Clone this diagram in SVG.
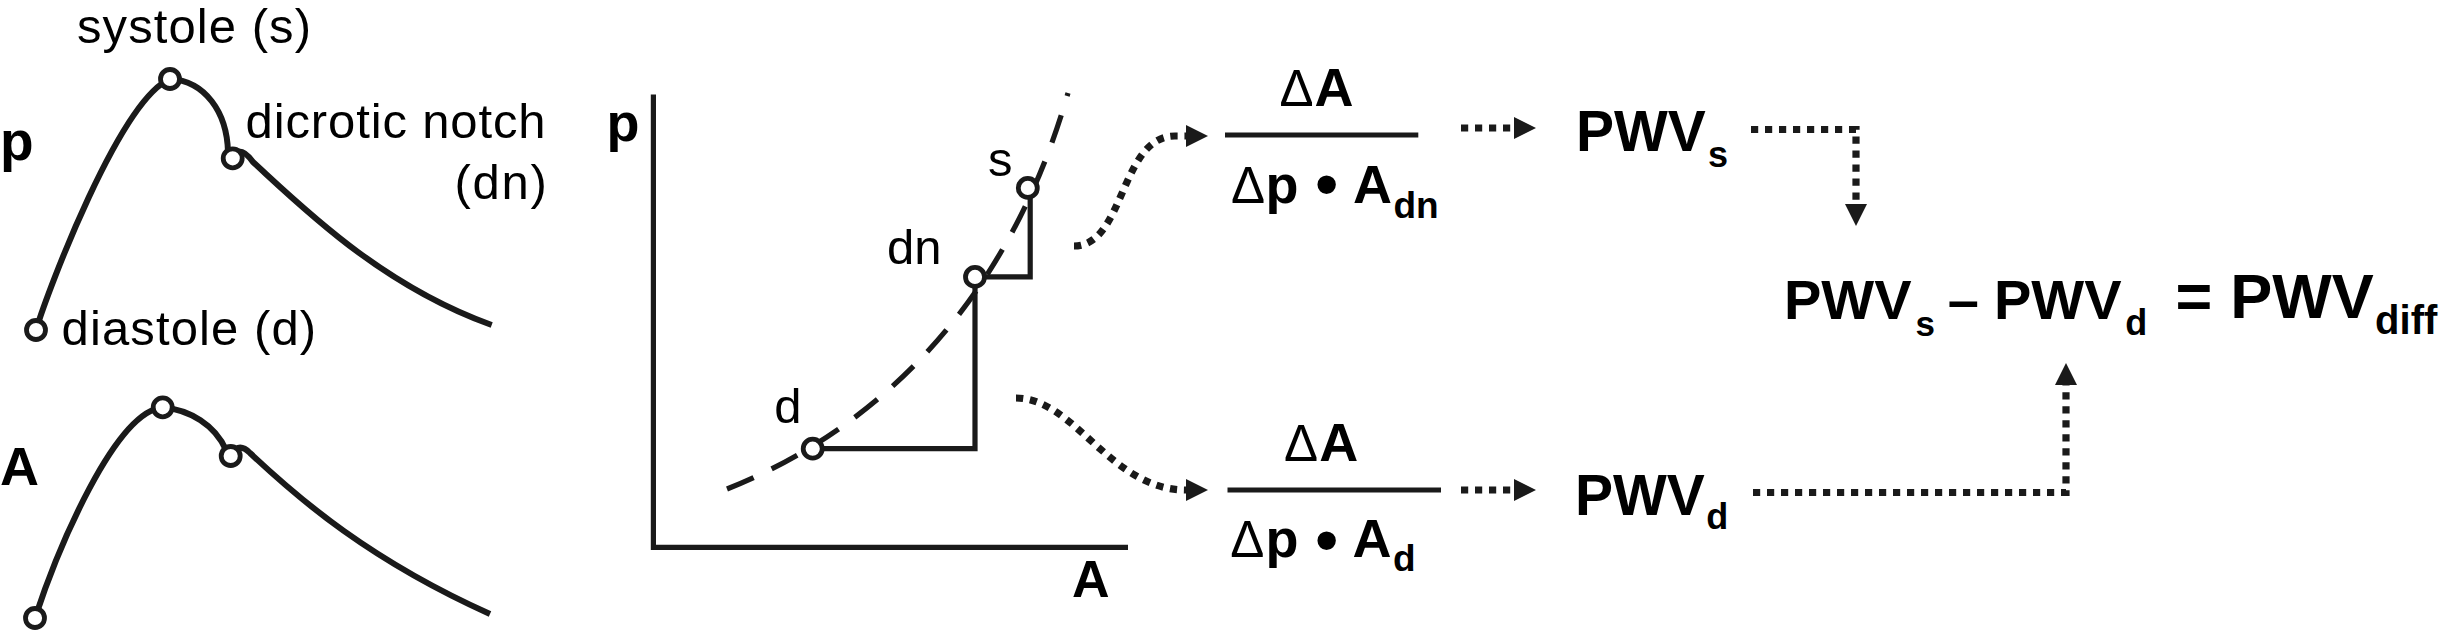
<svg xmlns="http://www.w3.org/2000/svg" width="2441" height="631" viewBox="0 0 2441 631">
<defs>
<style>
.t{font-family:"Liberation Sans",Arial,sans-serif;fill:#000}
.r{font-size:49px}
.b{font-weight:bold}
.curve{fill:none;stroke:#1a1a1a;stroke-width:6;stroke-linejoin:round;stroke-linecap:butt}
.solid{fill:none;stroke:#1a1a1a;stroke-width:5.2}
.dash{fill:none;stroke:#1a1a1a;stroke-width:5.2;stroke-dasharray:29 20}
.dot{fill:none;stroke:#1a1a1a;stroke-width:7.2;stroke-dasharray:7.2 6.8}
.pt{fill:#fff;stroke:#1a1a1a;stroke-width:4.8}
</style>
<marker id="ah" markerUnits="userSpaceOnUse" markerWidth="22" markerHeight="22" refX="0" refY="11" orient="auto"><path d="M0,0L22,11L0,22z" fill="#1a1a1a"/></marker>
</defs>
<rect width="2441" height="631" fill="#fff"/>

<g id="p-waveform">
<text class="t b" x="0" y="160" font-size="55">p</text>
<path class="curve" d="M36,330 C48,290 120,100 170,79 C205,81 227,112 228,152"/>
<path class="curve" d="M236,152 Q244,149 253,162 C300,205 380,285 491.7,325"/>
<circle class="pt" cx="36" cy="330" r="9.5"/>
<circle class="pt" cx="170" cy="79" r="9.5"/>
<circle class="pt" cx="232.7" cy="158.3" r="9.5"/>
<text class="t r" x="77" y="43.3" textLength="234" lengthAdjust="spacing">systole (s)</text>
<text class="t r" x="245.6" y="138.3" textLength="300" lengthAdjust="spacing">dicrotic notch</text>
<text class="t r" x="454.4" y="199.3" textLength="92.5" lengthAdjust="spacing">(dn)</text>
<text class="t r" x="61.6" y="345" textLength="254.6" lengthAdjust="spacing">diastole (d)</text>
</g>

<g id="A-waveform">
<text class="t b" x="0" y="485" font-size="54">A</text>
<path class="curve" d="M35,618 C58,548 115,412 162.7,407.3 C190,410 215,425 226,450"/>
<path class="curve" d="M236,449 Q242,445 250,453 C300,500 370,560 490,614"/>
<circle class="pt" cx="35" cy="618" r="9.5"/>
<circle class="pt" cx="162.7" cy="407.3" r="9.5"/>
<circle class="pt" cx="230.7" cy="456" r="9.5"/>
</g>

<g id="pA-chart">
<text class="t b" x="606.5" y="141" font-size="54">p</text>
<text class="t b" x="1072" y="597" font-size="52">A</text>
<path class="solid" d="M653.4,94.6 V547.3 H1128"/>
<path class="dash" d="M727,489 C850,440 1000,330 1068,93"/>
<path class="solid" d="M812.7,448.7 H975 V276.9 H1030.2 V187.9"/>
<circle class="pt" cx="812.7" cy="448.7" r="9.5"/>
<circle class="pt" cx="975" cy="276.9" r="9.5"/>
<circle class="pt" cx="1027.8" cy="187.9" r="9.5"/>
<text class="t r" x="774.3" y="422.5">d</text>
<text class="t r" x="886.9" y="263.6">dn</text>
<text class="t r" x="988" y="176.3">s</text>
</g>

<g id="fraction-s">
<text class="t" x="1279.5" y="106" font-size="51">Δ</text>
<text class="t b" x="1314.6" y="106" font-size="54">A</text>
<path class="solid" d="M1225,135 H1418.3"/>
<text class="t" x="1231" y="202.7" font-size="51">Δ</text>
<text class="t b" x="1265.5" y="202.7" font-size="54">p</text>
<text class="t" x="1314.8" y="207.1" font-size="68">•</text>
<text class="t b" x="1352.9" y="202.7" font-size="54">A</text>
<text class="t b" x="1393.5" y="218.3" font-size="37">dn</text>
</g>

<g id="fraction-d">
<text class="t" x="1284" y="460.8" font-size="51">Δ</text>
<text class="t b" x="1319.3" y="460.8" font-size="54">A</text>
<path class="solid" d="M1227.5,490 H1441"/>
<text class="t" x="1230.3" y="557.3" font-size="51">Δ</text>
<text class="t b" x="1265.5" y="557.3" font-size="54">p</text>
<text class="t" x="1314.8" y="563" font-size="68">•</text>
<text class="t b" x="1352.6" y="557.3" font-size="54">A</text>
<text class="t b" x="1393" y="571.4" font-size="37">d</text>
</g>

<g id="pwv-s">
<text class="t b" x="1576" y="150.7" font-size="57">PWV</text>
<text class="t b" x="1708" y="166.7" font-size="36">s</text>
</g>

<g id="pwv-d">
<text class="t b" x="1575" y="515" font-size="57">PWV</text>
<text class="t b" x="1706.2" y="529.2" font-size="36">d</text>
</g>

<g id="equation">
<text class="t b" x="1784" y="319.3" font-size="56">PWV</text>
<text class="t b" x="1915.6" y="336" font-size="35">s</text>
<text class="t b" x="1947.7" y="319.3" font-size="56">–</text>
<text class="t b" x="1994" y="319.3" font-size="56">PWV</text>
<text class="t b" x="2125.3" y="335" font-size="36">d</text>
<text class="t b" x="2175.5" y="318.3" font-size="63">=</text>
<text class="t b" x="2230.2" y="318.3" font-size="63">PWV</text>
<text class="t b" x="2375.1" y="334" font-size="40">diff</text>
</g>

<g id="connectors">
<path class="dot" d="M1074,246 C1125,246 1120,136 1175,136 L1186,136" marker-end="url(#ah)"/>
<path class="dot" d="M1016,398 C1075,398 1110,490 1186,490" marker-end="url(#ah)"/>
<path class="dot" d="M1461,128 H1514" marker-end="url(#ah)"/>
<path class="dot" d="M1461,490 H1514" marker-end="url(#ah)"/>
<path class="dot" d="M1751,129.5 H1856 V204" marker-end="url(#ah)"/>
<path class="dot" d="M1753,492.5 H2066 V385" marker-end="url(#ah)"/>
</g>
</svg>
